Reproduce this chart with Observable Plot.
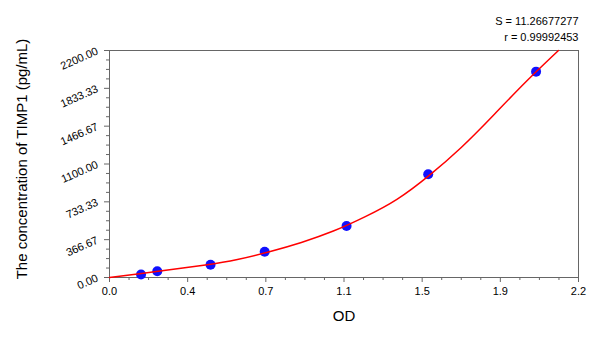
<!DOCTYPE html>
<html>
<head>
<meta charset="utf-8">
<script src="https://cdn.jsdelivr.net/npm/d3@7"></script>
<script src="https://cdn.jsdelivr.net/npm/@observablehq/plot@0.6"></script>
<style>
  html, body { margin: 0; padding: 0; background: #fff; }
  #chart svg { font-family: "Liberation Sans", Arial, sans-serif; display: block; }
</style>
</head>
<body>
<div id="chart"></div>
<script>
// Standard points (OD, concentration)
const pointOD   = [0.148, 0.224, 0.474, 0.728, 1.112, 1.495, 2.001];
const pointConc = [29, 61, 124, 250, 499, 1000, 1995];

// Fitted curve
const curveOD   = [0, 0.15, 0.30, 0.45, 0.60, 0.75, 0.90, 1.05, 1.20, 1.35, 1.50, 1.65, 1.80, 1.95, 2.106];
const curveConc = [0, 38, 80, 122, 175, 250, 340, 450, 590, 760, 990, 1260, 1570, 1890, 2200];

// Axis ticks and labels
const xTicks = [0, 2.2/6, 2*2.2/6, 1.1, 4*2.2/6, 5*2.2/6, 2.2];
const xTickLabels = ["0.0", "0.4", "0.7", "1.1", "1.5", "1.9", "2.2"];
const yTicks = [0, 366.6667, 733.3333, 1100, 1466.6667, 1833.3333, 2200];
const yTickLabels = ["0.00", "366.67", "733.33", "1100.00", "1466.67", "1833.33", "2200.00"];

const statS = "S = 11.26677277";
const statR = "r = 0.99992453";
const xLabel = "OD";
const yLabel = "The concentration of TIMP1 (pg/mL)";

const points = pointOD.map((d, i) => ({od: d, conc: pointConc[i]}));
const curve = curveOD.map((d, i) => ({od: d, conc: curveConc[i]}));

function minors(major) {
  const out = [];
  for (let i = 0; i < major.length - 1; i++) {
    const step = (major[i + 1] - major[i]) / 4;
    for (let k = 1; k < 4; k++) out.push(major[i] + k * step);
  }
  return out;
}

const axisColor = "#666";

const chart = Plot.plot({
  width: 600,
  height: 337,
  marginLeft: 109,
  marginRight: 22,
  marginTop: 50,
  marginBottom: 60,
  style: {fontFamily: "'Liberation Sans', Arial, sans-serif", fontSize: "11px", color: "#000"},
  x: {domain: [0, 2.2]},
  y: {domain: [0, 2200]},
  marks: [
    Plot.frame({stroke: axisColor, strokeWidth: 1}),
    Plot.axisX({ticks: minors(xTicks), tickSize: 3, tickFormat: () => "", stroke: axisColor, label: null}),
    Plot.axisX({ticks: xTicks, tickSize: 5, tickPadding: 5, stroke: axisColor,
      tickFormat: (d, i) => xTickLabels[i], fontSize: 11, label: null}),
    Plot.axisY({ticks: minors(yTicks), tickSize: 3, tickFormat: () => "", stroke: axisColor, label: null}),
    Plot.axisY({ticks: yTicks, tickSize: 5, tickPadding: 7, stroke: axisColor, tickRotate: -24,
      tickFormat: (d, i) => yTickLabels[i], fontSize: 11, label: null}),
    Plot.dot(points, {x: "od", y: "conc", r: 5, fill: "#1010ff", stroke: "none"}),
    Plot.line(curve, {x: "od", y: "conc", stroke: "#ff0000", strokeWidth: 1.5, curve: "natural"}),
    Plot.text([statS], {frameAnchor: "top-right", dy: -33, textAnchor: "end", fontSize: 11, fill: "#000"}),
    Plot.text([statR], {frameAnchor: "top-right", dy: -17, textAnchor: "end", fontSize: 11, fill: "#000"}),
    Plot.text([xLabel], {frameAnchor: "bottom", dy: 43, fontSize: 15, fill: "#000"}),
    Plot.text([yLabel], {frameAnchor: "left", dx: -87, dy: -5, rotate: -90, textAnchor: "middle", fontSize: 15, fill: "#000"})
  ]
});
document.getElementById("chart").appendChild(chart);
</script>
</body>
</html>
